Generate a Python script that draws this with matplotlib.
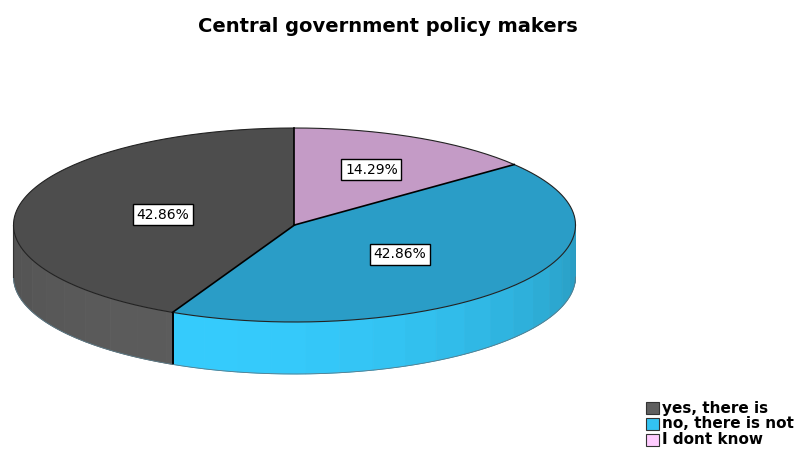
import numpy as np
import matplotlib
matplotlib.use("Agg")
import matplotlib.pyplot as plt
from matplotlib.patches import Polygon, Rectangle
from matplotlib.colors import to_rgb

# ---- data ----
title = "Central government policy makers"
categories = ["yes, there is", "no, there is not", "I dont know"]
percents = [42.86, 42.86, 14.29]
top_colors = ["#4d4d4d", "#2a9dc7", "#c49bc6"]
side_colors = ["#585858", "#33c3f2", "#d9a8dc"]
legend_colors = ["#5f5f5f", "#33c3f2", "#ffccff"]
label_radius = [0.48, 0.48, 0.63]

# ---- geometry (pixels) ----
W, H = 803, 449
cx, cy = 294.5, 225.0
a, b = 281.0, 97.0
depth = 52.0

fig = plt.figure(figsize=(W / 100, H / 100), dpi=100)
ax = fig.add_axes([0, 0, 1, 1])
ax.set_xlim(0, W)
ax.set_ylim(H, 0)
ax.axis("off")

def pt(t_deg, r=1.0, dz=0.0):
    t = np.radians(t_deg)
    return cx + r * a * np.cos(t), cy - r * b * np.sin(t) + dz

total = sum(percents)
angles = [90.0]
for p in percents:
    angles.append(angles[-1] + 360.0 * p / total)

def shade(col, t):
    f = 0.82 + 0.18 * np.cos(np.radians(t - 250.0))
    r, g, bb = to_rgb(col)
    return (min(r * f / 0.96, 1), min(g * f / 0.96, 1), min(bb * f / 0.96, 1))

# ---- sides (visible front half: 180..360) ----
for i in range(len(percents)):
    a0, a1 = angles[i], angles[i + 1]
    for lo, hi in [(180, 360), (540, 720)]:
        s0, s1 = max(a0, lo), min(a1, hi)
        if s1 <= s0:
            continue
        edges = np.arange(s0, s1, 7.0).tolist() + [s1]
        for k in range(len(edges) - 1):
            t0, t1 = edges[k], edges[k + 1]
            ts = np.linspace(t0, t1, 8)
            top = [pt(t) for t in ts]
            bot = [pt(t, dz=depth) for t in ts[::-1]]
            c = shade(side_colors[i], (t0 + t1) / 2)
            ax.add_patch(Polygon(top + bot, closed=True, facecolor=c,
                                 edgecolor=c, lw=0.6, zorder=1))
        for e in (s0, s1):
            if lo < e < hi:
                x0, y0 = pt(e)
                ax.plot([x0, x0], [y0, y0 + depth], color="black", lw=1.2, zorder=2)

# bottom rim and left edge
ts = np.linspace(180, 360, 200)
ax.plot([pt(t, dz=depth)[0] for t in ts], [pt(t, dz=depth)[1] for t in ts],
        color="#5a7a88", lw=0.6, zorder=2)
x0, y0 = pt(180)
ax.plot([x0, x0], [y0, y0 + depth], color="#333333", lw=0.8, zorder=2)

# ---- top wedges ----
for i in range(len(percents)):
    ts = np.linspace(angles[i], angles[i + 1], 120)
    poly = [(cx, cy)] + [pt(t) for t in ts]
    ax.add_patch(Polygon(poly, closed=True, facecolor=top_colors[i],
                         edgecolor="none", zorder=3))
ts = np.linspace(0, 360, 400)
ax.plot([pt(t)[0] for t in ts], [pt(t)[1] for t in ts],
        color="#222222", lw=0.8, zorder=4)
for e in angles[:-1]:
    x1, y1 = pt(e)
    ax.plot([cx, x1], [cy, y1], color="black", lw=1.2, zorder=4)

# ---- labels ----
for i, p in enumerate(percents):
    mid = (angles[i] + angles[i + 1]) / 2
    x, y = pt(mid, r=label_radius[i])
    ax.text(x, y, f"{p:.2f}%", ha="center", va="center",
            fontsize=10, family="DejaVu Sans", zorder=6,
            bbox=dict(boxstyle="square,pad=0.25", facecolor="white",
                      edgecolor="black", lw=1.0))

# ---- title ----
ax.text(388, 26, title, ha="center", va="center", fontsize=14,
        fontweight="bold", family="DejaVu Sans")

# ---- legend ----
for i, cat in enumerate(categories):
    y = 408 + 16 * i
    ax.add_patch(Rectangle((646, y - 6), 13, 12, facecolor=legend_colors[i],
                           edgecolor="#333333", lw=0.8, zorder=5))
    ax.text(662, y, cat, ha="left", va="center", fontsize=11,
            fontweight="bold", family="DejaVu Sans")

fig.savefig("out.png", dpi=100)
